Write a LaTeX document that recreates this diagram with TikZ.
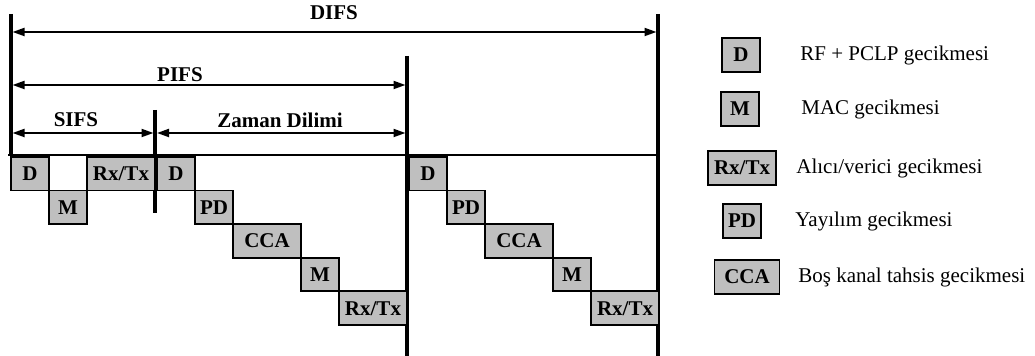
\documentclass[tikz,border=0pt]{standalone}
\usepackage{fontspec}
\setmainfont{Liberation Serif}
\usetikzlibrary{arrows.meta,positioning}

\newcommand{\diagfont}{\fontsize{10.5}{12.6}\selectfont}

\tikzset{
  slot/.style={draw,line width=0.9pt,fill=black!25,minimum height=16.8pt,
    inner sep=0pt,outer sep=0pt,font=\diagfont\bfseries},
  narrow/.style={slot,minimum width=19pt},
  wide/.style={slot,minimum width=34pt},
  span/.style={<->,line width=1pt},
  border/.style={line width=1.6pt},
  ttl/.style={font=\diagfont\bfseries,inner sep=0pt},
  key/.style={font=\diagfont,inner sep=0pt,anchor=west},
}

\begin{document}
\begin{tikzpicture}[x=0.5pt,y=-0.5pt,>={Triangle[length=6pt,width=4pt]}]
    \useasboundingbox (0,0) rectangle (1035,356);

    % 1) Ends of the vertical time marks
    \coordinate (v0top) at (11,14);   \coordinate (v0bot) at (11,156);
    \coordinate (v1top) at (155,110); \coordinate (v1bot) at (155,213);
    \coordinate (v2top) at (407,56);  \coordinate (v2bot) at (407,356);
    \coordinate (v3top) at (658,14);  \coordinate (v3bot) at (658,356);
    \coordinate (base0) at (8,155);   \coordinate (base1) at (658,155);

    \draw[line width=0.7pt] (base0) -- (base1);
    \draw[border] (v0top) -- (v0bot);
    \draw[border] (v1top) -- (v1bot);
    \draw[border] (v2top) -- (v2bot);
    \draw[border] (v3top) -- (v3bot);

    % 2) Interval arrows with their names
    \coordinate (difsL) at (12.5,32);  \coordinate (difsR) at (656.5,32);
    \coordinate (pifsL) at (12.5,85);  \coordinate (pifsR) at (405.5,85);
    \coordinate (sifsL) at (12.5,133); \coordinate (sifsR) at (153.5,133);
    \coordinate (slotL) at (157,133);  \coordinate (slotR) at (405.5,133);

    \draw[span] (difsL) -- (difsR);
    \draw[span] (pifsL) -- (pifsR);
    \draw[span] (sifsL) -- (sifsR);
    \draw[span] (slotL) -- (slotR);

    \node[ttl] (difs) at (334,13) {DIFS};
    \node[ttl] (pifs) at (180,75) {PIFS};
    \node[ttl] (sifs) at (76,120) {SIFS};
    \node[ttl] (slot) at (280,120) {Zaman Dilimi};

    % 3) SIFS part
    \node[narrow,anchor=north west] (d1) at (11,157) {D};
    \node[narrow,anchor=north west] (m1) at (d1.south east) {M};
    \node[wide,anchor=south west] (rx1) at (m1.north east) {Rx/Tx};

    % 4) First time slot
    \node[narrow,anchor=north west] (d2) at (157,157) {D};
    \node[narrow,anchor=north west] (pd2) at (d2.south east) {PD};
    \node[wide,anchor=north west] (cca2) at (pd2.south east) {CCA};
    \node[narrow,anchor=north west] (m2) at (cca2.south east) {M};
    \node[wide,anchor=north west] (rx2) at (m2.south east) {Rx/Tx};

    % 5) Second time slot
    \node[narrow,anchor=north west] (d3) at (409,157) {D};
    \node[narrow,anchor=north west] (pd3) at (d3.south east) {PD};
    \node[wide,anchor=north west] (cca3) at (pd3.south east) {CCA};
    \node[narrow,anchor=north west] (m3) at (cca3.south east) {M};
    \node[wide,anchor=north west] (rx3) at (m3.south east) {Rx/Tx};

    % 6) Legend
    \node[narrow] (kD) at (741,55) {D};
    \node[narrow] (kM) at (740,109) {M};
    \node[wide] (kRx) at (742,168) {Rx/Tx};
    \node[narrow] (kPD) at (742,221) {PD};
    \node[slot,minimum width=32.5pt] (kCCA) at (747,277) {CCA};

    \node[key] (tD) at (800,55) {RF + PCLP gecikmesi};
    \node[key] (tM) at (801,109) {MAC gecikmesi};
    \node[key] (tRx) at (796,168) {Alıcı/verici gecikmesi};
    \node[key] (tPD) at (795,221) {Yayılım gecikmesi};
    \node[key] (tCCA) at (798,277) {Boş kanal tahsis gecikmesi};
\end{tikzpicture}
\end{document}
